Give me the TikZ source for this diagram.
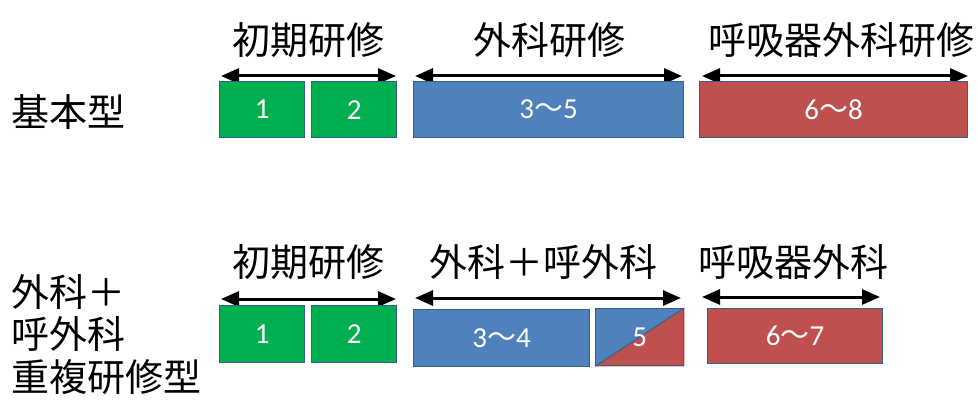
\documentclass[tikz,border=0pt]{standalone}
\usepackage{fontspec}
\setmainfont{Carlito}
\newfontfamily\cjk{Noto Sans CJK JP}
\usetikzlibrary{arrows.meta,backgrounds}
\definecolor{gbox}{HTML}{00B050}
\definecolor{bbox}{HTML}{4F81BD}
\definecolor{rbox}{HTML}{C0504D}
\definecolor{edge}{HTML}{385D8A}
\newcommand{\wv}{{\cjk ～}}
\begin{document}
\begin{tikzpicture}[x=1pt,y=-1pt,
  box/.style={draw=edge, line width=1.3pt, inner sep=0pt, anchor=north west, text=white,
    font=\fontsize{29}{32}\selectfont},
  ttl/.style={font=\cjk\fontsize{38}{40}\selectfont, inner sep=0pt},
  lbl/.style={font=\cjk\fontsize{38}{40}\selectfont, inner sep=0pt, anchor=west},
  arr/.style={line width=3pt, {Triangle[length=18pt,width=15pt]}-{Triangle[length=18pt,width=15pt]}}]
\useasboundingbox (0,0) rectangle (978,401);
% left labels
\node[lbl] (k1) at (11,112) {基本型};
\node[lbl] (k2) at (11,292) {外科＋};
\node[lbl] (k3) at (11,334) {呼外科};
\node[lbl] (k4) at (11,377) {重複研修型};
% row 1 titles
\node[ttl] (t11) at (308,40) {初期研修};
\node[ttl] (t12) at (549,40) {外科研修};
\node[ttl] (t13) at (841,40) {呼吸器外科研修};
% row 1 arrows
\coordinate (a11s) at (221,76); \coordinate (a11e) at (396,76);
\coordinate (a12s) at (415,76); \coordinate (a12e) at (682,76);
\coordinate (a13s) at (702,76); \coordinate (a13e) at (968,76);
\draw[arr] (a11s) -- (a11e);
\draw[arr] (a12s) -- (a12e);
\draw[arr] (a13s) -- (a13e);
% row 1 boxes
\node[box, fill=gbox, minimum width=85pt, minimum height=56pt] (b11) at (219,81) {1};
\node[box, fill=gbox, minimum width=85pt, minimum height=56pt] (b12) at (311,81) {2};
\node[box, fill=bbox, minimum width=270pt, minimum height=56pt] (b13) at (413,81) {3\wv5};
\node[box, fill=rbox, minimum width=268pt, minimum height=56pt] (b14) at (699,81) {6\wv8};
% row 2 titles
\node[ttl] (t21) at (308,262) {初期研修};
\node[ttl] (t22) at (543,262) {外科＋呼外科};
\node[ttl] (t23) at (793,262) {呼吸器外科};
% row 2 arrows
\coordinate (a21s) at (221,299); \coordinate (a21e) at (396,299);
\coordinate (a22s) at (415,298); \coordinate (a22e) at (681,298);
\coordinate (a23s) at (702,297); \coordinate (a23e) at (880,297);
\draw[arr] (a21s) -- (a21e);
\draw[arr] (a22s) -- (a22e);
\draw[arr] (a23s) -- (a23e);
% row 2 boxes
\node[box, fill=gbox, minimum width=85pt, minimum height=57pt] (b21) at (219,305) {1};
\node[box, fill=gbox, minimum width=85pt, minimum height=57pt] (b22) at (311,305) {2};
\node[box, fill=bbox, minimum width=176pt, minimum height=57pt] (b23) at (413,309) {3\wv4};
\node[box, minimum width=88pt, minimum height=57pt] (b24) at (595,308) {5};
\node[box, fill=rbox, minimum width=175pt, minimum height=55pt] (b25) at (707,308) {6\wv7};
\begin{scope}[on background layer]
  \fill[bbox] (b24.north west) -- (b24.north east) -- (b24.south west) -- cycle;
  \fill[rbox] (b24.north east) -- (b24.south east) -- (b24.south west) -- cycle;
  \draw[edge, line width=1pt] (b24.south west) -- (b24.north east);
\end{scope}
\end{tikzpicture}
\end{document}
